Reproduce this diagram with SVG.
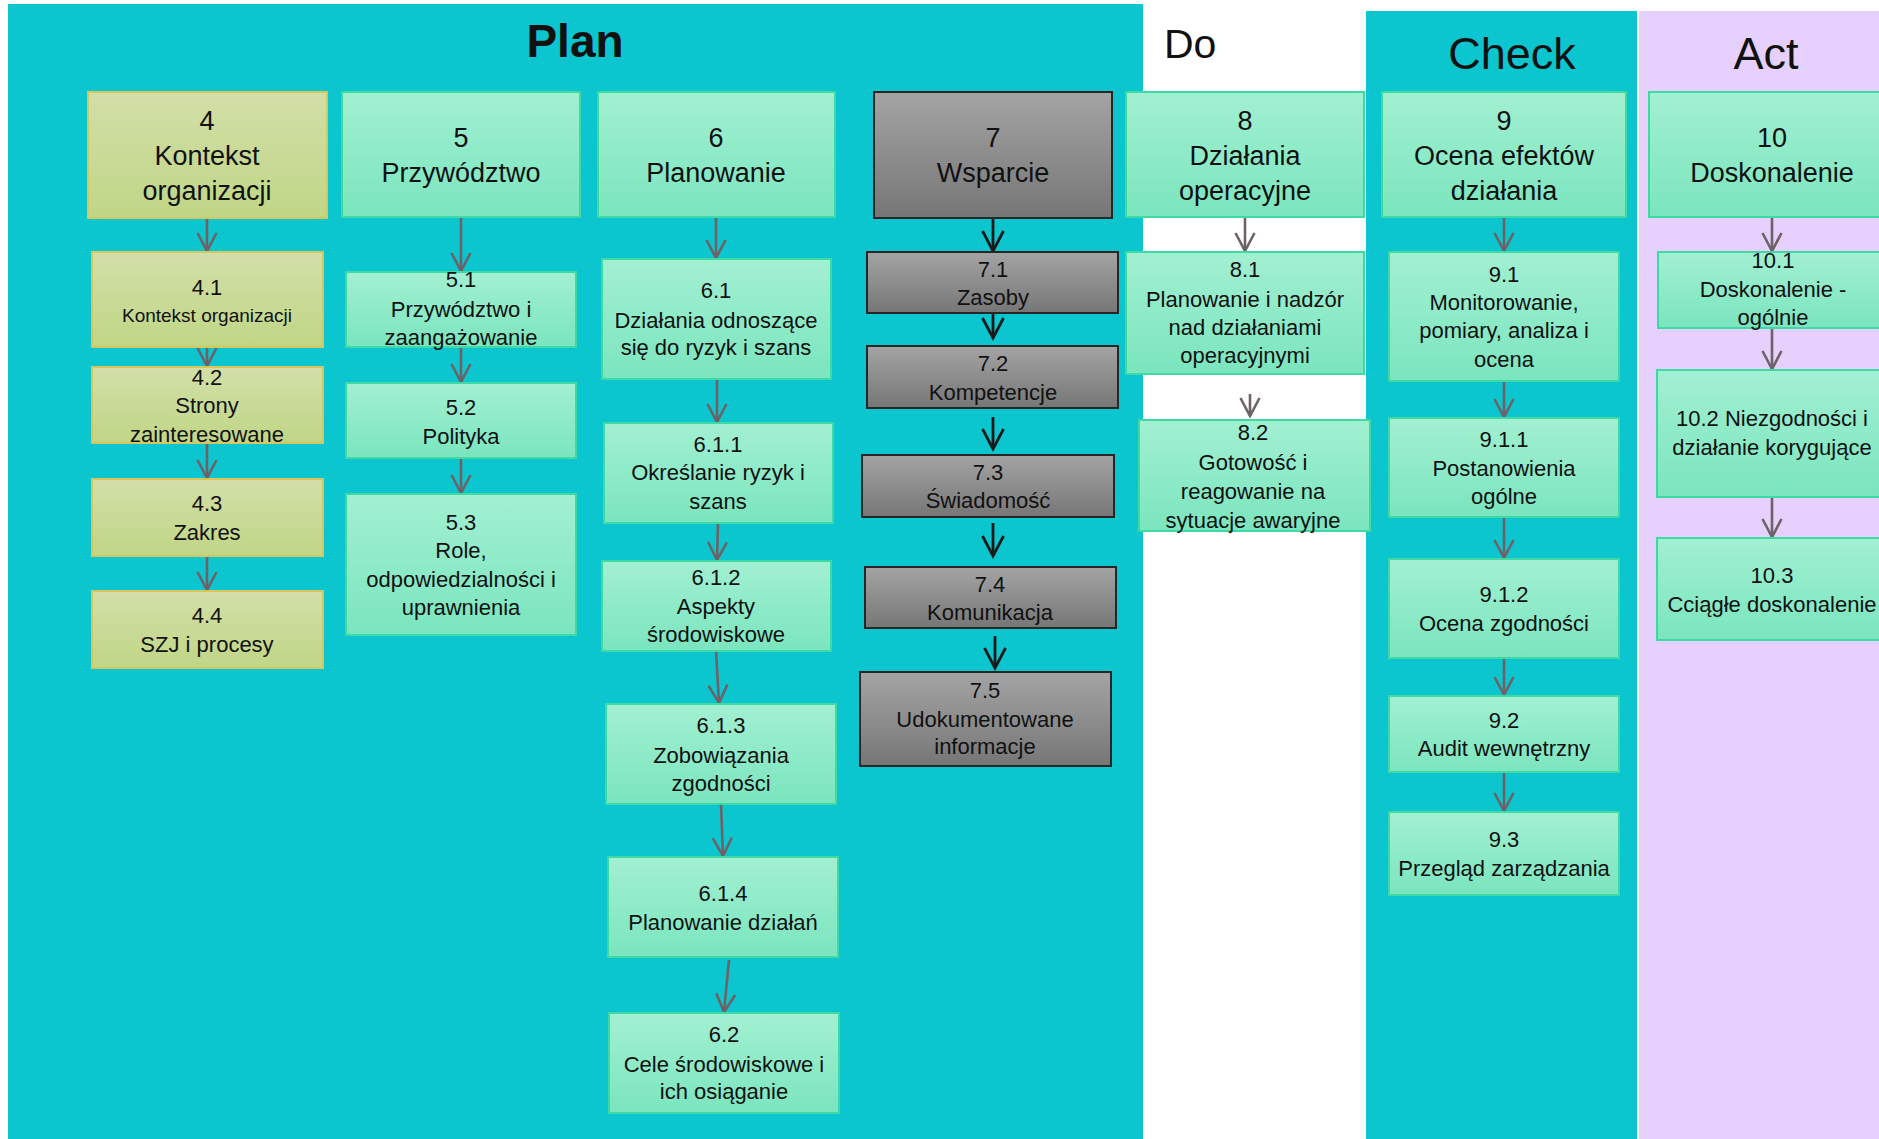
<svg xmlns="http://www.w3.org/2000/svg" width="1879" height="1139" viewBox="0 0 1879 1139">
<defs>
<linearGradient id="gMint" x1="0" y1="0" x2="0" y2="1"><stop offset="0" stop-color="#A2F0D2"/><stop offset="1" stop-color="#7AE5BE"/></linearGradient>
<linearGradient id="gOlive" x1="0" y1="0" x2="0" y2="1"><stop offset="0" stop-color="#D2DFA8"/><stop offset="1" stop-color="#C0D686"/></linearGradient>
<linearGradient id="gGray" x1="0" y1="0" x2="0" y2="1"><stop offset="0" stop-color="#A4A4A4"/><stop offset="1" stop-color="#767676"/></linearGradient>
<marker id="ag" markerUnits="userSpaceOnUse" viewBox="-22 -13 26 26" refX="0" refY="0" markerWidth="26" markerHeight="26" orient="auto" overflow="visible"><path d="M-18,-9.5 L0,0 L-18,9.5" fill="none" stroke="#6E6266" stroke-width="2.6"/></marker>
<marker id="ab" markerUnits="userSpaceOnUse" viewBox="-24 -13 28 26" refX="0" refY="0" markerWidth="28" markerHeight="26" orient="auto" overflow="visible"><path d="M-20,-10.5 L0,0 L-20,10.5" fill="none" stroke="#1A1A1A" stroke-width="2.8"/></marker>
</defs>
<style>
text{font-family:"Liberation Sans",Arial,sans-serif;fill:#111;text-anchor:middle}
.h{font-size:27px}
.s{font-size:22px}
.xs{font-size:19px}
.mint{fill:url(#gMint);stroke:#3FD9A3;stroke-width:2}
.olive{fill:url(#gOlive);stroke:#D6C65E;stroke-width:2}
.gray{fill:url(#gGray);stroke:#262626;stroke-width:2}
.cg{fill:none;stroke:#6E6266;stroke-width:2.6;marker-end:url(#ag)}
.cb{fill:none;stroke:#1A1A1A;stroke-width:2.8;marker-end:url(#ab)}
.title{font-size:45px}
</style>
<rect x="0" y="0" width="1879" height="1139" fill="#FFFFFF"/>
<g id="panels">
<rect x="8" y="4" width="1135" height="1135" fill="#0BC5CF"/>
<rect x="1366" y="11" width="271" height="1128" fill="#0BC5CF"/>
<rect x="1639" y="11" width="240" height="1128" fill="#E6D1FE"/>
<text x="575" y="57" style="font-size:46px;font-weight:bold">Plan</text>
<text x="1164" y="58" style="font-size:41px;text-anchor:start">Do</text>
<text x="1512" y="69" class="title">Check</text>
<text x="1766" y="69" class="title">Act</text>
</g>
<g id="connectors">
<path class="cg" d="M207,218 L207,251"/>
<path class="cg" d="M207,347 L207,366"/>
<path class="cg" d="M207,443 L207,478"/>
<path class="cg" d="M207,556 L207,590"/>
<path class="cg" d="M461,217 L461,271"/>
<path class="cg" d="M461,347 L461,382"/>
<path class="cg" d="M461,458 L461,493"/>
<path class="cg" d="M716,217 L716,258"/>
<path class="cg" d="M717,379 L717,422"/>
<path class="cg" d="M718,523 L717,560"/>
<path class="cg" d="M716,651 L719,703"/>
<path class="cg" d="M721,804 L723,856"/>
<path class="cg" d="M729,960 L724,1012"/>
<path class="cb" d="M993,218 L993,251"/>
<path class="cb" d="M993,313 L993,338"/>
<path class="cb" d="M993,417 L993,449"/>
<path class="cb" d="M993,523 L993,556"/>
<path class="cb" d="M995,636 L995,668"/>
<path class="cg" d="M1245,218 L1245,251"/>
<path class="cg" d="M1250,394 L1250,416"/>
<path class="cg" d="M1504,217 L1504,251"/>
<path class="cg" d="M1504,382 L1504,417"/>
<path class="cg" d="M1504,517 L1504,558"/>
<path class="cg" d="M1504,658 L1504,695"/>
<path class="cg" d="M1504,772 L1504,811"/>
<path class="cg" d="M1772,218 L1772,251"/>
<path class="cg" d="M1772,328 L1772,369"/>
<path class="cg" d="M1772,497 L1772,537"/>
</g>
<g id="n4"><rect class="olive" x="88" y="92" width="239" height="126"/><text class="h" x="207" y="130">4</text><text class="h" x="207" y="165">Kontekst</text><text class="h" x="207" y="200">organizacji</text></g>
<g id="n4_1"><rect class="olive" x="92" y="252" width="231" height="95"/><text class="s" x="207" y="295">4.1</text><text class="xs" x="207" y="322">Kontekst organizacji</text></g>
<g id="n4_2"><rect class="olive" x="92" y="367" width="231" height="76"/><text class="s" x="207" y="385">4.2</text><text class="s" x="207" y="413">Strony</text><text class="s" x="207" y="442">zainteresowane</text></g>
<g id="n4_3"><rect class="olive" x="92" y="479" width="231" height="77"/><text class="s" x="207" y="511">4.3</text><text class="s" x="207" y="540">Zakres</text></g>
<g id="n4_4"><rect class="olive" x="92" y="591" width="231" height="77"/><text class="s" x="207" y="623">4.4</text><text class="s" x="207" y="652">SZJ i procesy</text></g>
<g id="n5"><rect class="mint" x="342" y="92" width="238" height="125"/><text class="h" x="461" y="147">5</text><text class="h" x="461" y="182">Przywództwo</text></g>
<g id="n5_1"><rect class="mint" x="346" y="272" width="230" height="75"/><text class="s" x="461" y="287">5.1</text><text class="s" x="461" y="317">Przywództwo i</text><text class="s" x="461" y="345">zaangażowanie</text></g>
<g id="n5_2"><rect class="mint" x="346" y="383" width="230" height="75"/><text class="s" x="461" y="415">5.2</text><text class="s" x="461" y="444">Polityka</text></g>
<g id="n5_3"><rect class="mint" x="346" y="494" width="230" height="141"/><text class="s" x="461" y="530">5.3</text><text class="s" x="461" y="558">Role,</text><text class="s" x="461" y="587">odpowiedzialności i</text><text class="s" x="461" y="615">uprawnienia</text></g>
<g id="n6"><rect class="mint" x="598" y="92" width="237" height="125"/><text class="h" x="716" y="147">6</text><text class="h" x="716" y="182">Planowanie</text></g>
<g id="n6_1"><rect class="mint" x="602" y="259" width="229" height="120"/><text class="s" x="716" y="298">6.1</text><text class="s" x="716" y="328">Działania odnoszące</text><text class="s" x="716" y="355">się do ryzyk i szans</text></g>
<g id="n6_1_1"><rect class="mint" x="604" y="423" width="229" height="100"/><text class="s" x="718" y="452">6.1.1</text><text class="s" x="718" y="480">Określanie ryzyk i</text><text class="s" x="718" y="509">szans</text></g>
<g id="n6_1_2"><rect class="mint" x="602" y="561" width="229" height="90"/><text class="s" x="716" y="585">6.1.2</text><text class="s" x="716" y="614">Aspekty</text><text class="s" x="716" y="642">środowiskowe</text></g>
<g id="n6_1_3"><rect class="mint" x="606" y="704" width="230" height="100"/><text class="s" x="721" y="733">6.1.3</text><text class="s" x="721" y="763">Zobowiązania</text><text class="s" x="721" y="791">zgodności</text></g>
<g id="n6_1_4"><rect class="mint" x="608" y="857" width="230" height="100"/><text class="s" x="723" y="901">6.1.4</text><text class="s" x="723" y="930">Planowanie działań</text></g>
<g id="n6_2"><rect class="mint" x="609" y="1013" width="230" height="100"/><text class="s" x="724" y="1042">6.2</text><text class="s" x="724" y="1072">Cele środowiskowe i</text><text class="s" x="724" y="1099">ich osiąganie</text></g>
<g id="n7"><rect class="gray" x="874" y="92" width="238" height="126"/><text class="h" x="993" y="147">7</text><text class="h" x="993" y="182">Wsparcie</text></g>
<g id="n7_1"><rect class="gray" x="867" y="252" width="251" height="61"/><text class="s" x="993" y="277">7.1</text><text class="s" x="993" y="305">Zasoby</text></g>
<g id="n7_2"><rect class="gray" x="867" y="346" width="251" height="62"/><text class="s" x="993" y="371">7.2</text><text class="s" x="993" y="400">Kompetencje</text></g>
<g id="n7_3"><rect class="gray" x="862" y="455" width="252" height="62"/><text class="s" x="988" y="480">7.3</text><text class="s" x="988" y="508">Świadomość</text></g>
<g id="n7_4"><rect class="gray" x="865" y="567" width="251" height="61"/><text class="s" x="990" y="592">7.4</text><text class="s" x="990" y="620">Komunikacja</text></g>
<g id="n7_5"><rect class="gray" x="860" y="672" width="251" height="94"/><text class="s" x="985" y="698">7.5</text><text class="s" x="985" y="727">Udokumentowane</text><text class="s" x="985" y="754">informacje</text></g>
<g id="n8"><rect class="mint" x="1126" y="92" width="238" height="125"/><text class="h" x="1245" y="130">8</text><text class="h" x="1245" y="165">Działania</text><text class="h" x="1245" y="200">operacyjne</text></g>
<g id="n8_1"><rect class="mint" x="1126" y="252" width="238" height="122"/><text class="s" x="1245" y="277">8.1</text><text class="s" x="1245" y="307">Planowanie i nadzór</text><text class="s" x="1245" y="335">nad działaniami</text><text class="s" x="1245" y="363">operacyjnymi</text></g>
<g id="n8_2"><rect class="mint" x="1139" y="420" width="231" height="111"/><text class="s" x="1253" y="440">8.2</text><text class="s" x="1253" y="470">Gotowość i</text><text class="s" x="1253" y="499">reagowanie na</text><text class="s" x="1253" y="528">sytuacje awaryjne</text></g>
<g id="n9"><rect class="mint" x="1382" y="92" width="244" height="125"/><text class="h" x="1504" y="130">9</text><text class="h" x="1504" y="165">Ocena efektów</text><text class="h" x="1504" y="200">działania</text></g>
<g id="n9_1"><rect class="mint" x="1389" y="252" width="230" height="129"/><text class="s" x="1504" y="282">9.1</text><text class="s" x="1504" y="310">Monitorowanie,</text><text class="s" x="1504" y="338">pomiary, analiza i</text><text class="s" x="1504" y="367">ocena</text></g>
<g id="n9_1_1"><rect class="mint" x="1389" y="418" width="230" height="99"/><text class="s" x="1504" y="447">9.1.1</text><text class="s" x="1504" y="476">Postanowienia</text><text class="s" x="1504" y="504">ogólne</text></g>
<g id="n9_1_2"><rect class="mint" x="1389" y="559" width="230" height="99"/><text class="s" x="1504" y="602">9.1.2</text><text class="s" x="1504" y="631">Ocena zgodności</text></g>
<g id="n9_2"><rect class="mint" x="1389" y="696" width="230" height="76"/><text class="s" x="1504" y="728">9.2</text><text class="s" x="1504" y="756">Audit wewnętrzny</text></g>
<g id="n9_3"><rect class="mint" x="1389" y="812" width="230" height="83"/><text class="s" x="1504" y="847">9.3</text><text class="s" x="1504" y="876">Przegląd zarządzania</text></g>
<g id="n10"><rect class="mint" x="1649" y="92" width="246" height="125"/><text class="h" x="1772" y="147">10</text><text class="h" x="1772" y="182">Doskonalenie</text></g>
<g id="n10_1"><rect class="mint" x="1658" y="252" width="240" height="76"/><text class="s" x="1773" y="268">10.1</text><text class="s" x="1773" y="297">Doskonalenie -</text><text class="s" x="1773" y="325">ogólnie</text></g>
<g id="n10_2"><rect class="mint" x="1657" y="370" width="240" height="127"/><text class="s" x="1772" y="426">10.2 Niezgodności i</text><text class="s" x="1772" y="455">działanie korygujące</text></g>
<g id="n10_3"><rect class="mint" x="1657" y="538" width="240" height="102"/><text class="s" x="1772" y="583">10.3</text><text class="s" x="1772" y="612">Cciągłe doskonalenie</text></g>
</svg>
